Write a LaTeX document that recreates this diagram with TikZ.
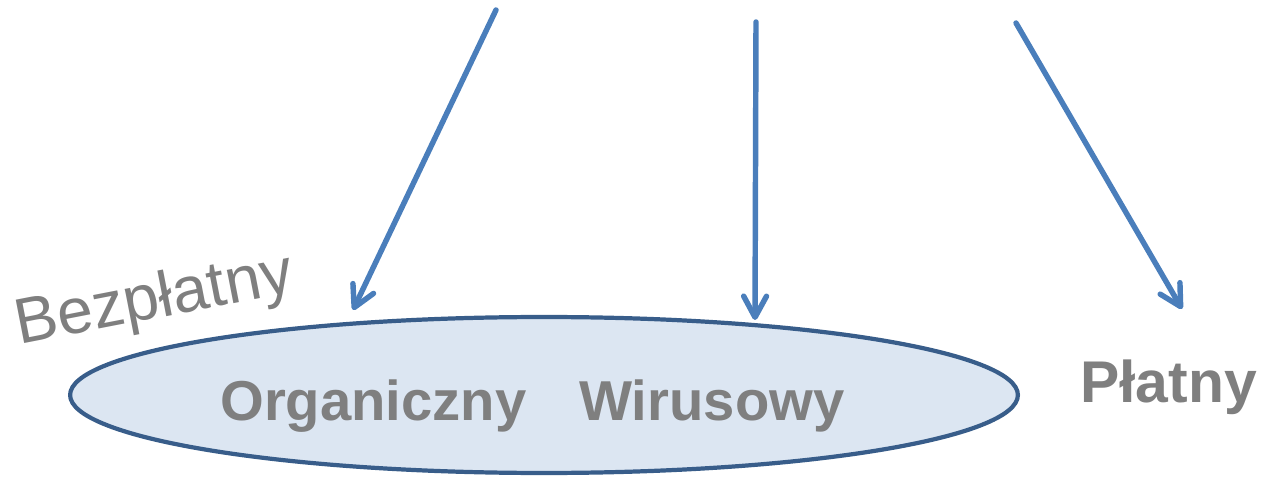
\documentclass[tikz,border=0pt]{standalone}
\usepackage{fontspec}
\setmainfont{Liberation Sans}
\usepackage{xcolor}
\usetikzlibrary{
  arrows.meta,
  shapes.geometric
}
\definecolor{arrowC}{HTML}{4A7EBB}
\definecolor{ovalC}{HTML}{DCE6F2}
\definecolor{ovalEdgeC}{HTML}{385D8A}
\definecolor{labelC}{HTML}{7F7F7F}

\begin{document}
\begin{tikzpicture}[
  x=0.02cm,
  y=-0.02cm,
  line cap=round,
  line join=round,
  flow/.style={
    arrowC,
    line width=3.1pt,
    -{Straight Barb[length=12pt, width=13pt, line cap=round, line join=round]}
  },
  kind/.style={
    labelC,
    font=\fontsize{32}{38}\selectfont\bfseries,
    inner sep=0pt,
    anchor=base west
  }
]

\useasboundingbox (0,0) rectangle (1274,479);

% Free channel: oval holding both kinds.
\node[
  ellipse,
  fill=ovalC,
  draw=ovalEdgeC,
  line width=2.4pt,
  minimum width=18.96cm,
  minimum height=3.12cm,
  inner sep=0pt,
  outer sep=0pt
] (oval) at (544,395) {};

\node[kind] (organic) at (220,420) {Organiczny};
\node[kind] (viral) at (579,420) {Wirusowy};
\node[kind, font=\fontsize{33.5}{40}\selectfont\bfseries] (paid) at (1080,402) {Płatny};

\node[
  labelC,
  font=\fontsize{36.5}{44}\selectfont,
  inner sep=0pt,
  anchor=base west,
  rotate=11
] (free) at (19,345) {Bezpłatny};

% Incoming flows.
\coordinate (src1) at (496,10);
\coordinate (src2) at (756,22);
\coordinate (src3) at (1016,23);
\coordinate (hit1) at (353,310);
\coordinate (hit2) at (755,320);
\coordinate (hit3) at (1182,309);

\foreach \s/\t in {src1/hit1, src2/hit2, src3/hit3}{
  \draw[flow] (\s) -- (\t);
}

\end{tikzpicture}
\end{document}
